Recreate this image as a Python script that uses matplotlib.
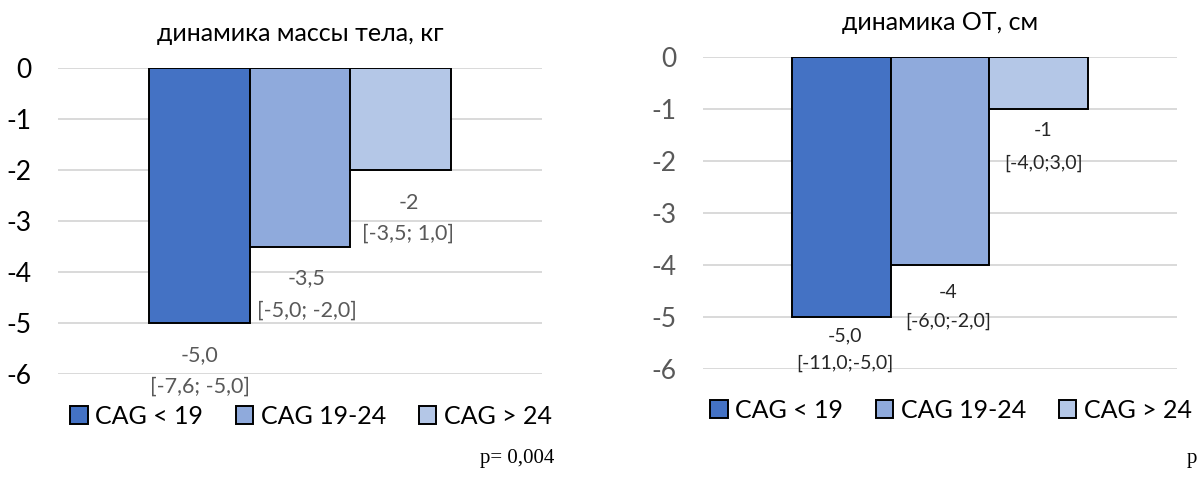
import numpy as np
import matplotlib
matplotlib.use("Agg")
import matplotlib.pyplot as plt

# groups by CAG repeat length
groups = ["CAG < 19", "CAG 19-24", "CAG > 24"]
colors = ["#4472C4", "#8FAADC", "#B4C7E7"]

# body mass change, kg (medians with IQR)
mass_median = [-5.0, -3.5, -2.0]
mass_text = ["-5,0", "-3,5", "-2"]
mass_iqr = ["[-7,6; -5,0]", "[-5,0; -2,0]", "[-3,5; 1,0]"]

# waist circumference change, cm
waist_median = [-5.0, -4.0, -1.0]
waist_text = ["-5,0", "-4", "-1"]
waist_iqr = ["[-11,0;-5,0]", "[-6,0;-2,0]", "[-4,0;3,0]"]

yticks = [0, -1, -2, -3, -4, -5, -6]

plt.rcParams["font.family"] = ["Lato", "DejaVu Sans"]

fig = plt.figure(figsize=(11.98, 5.0), dpi=100)


def panel(rect, values, vtext, itext, title, tick_color, lab_color, lab_size,
          offs, dxs, title_y, legend_xy):
    ax = fig.add_axes(rect)
    x = np.arange(len(values)) - 1
    bars = []
    for i, v in enumerate(values):
        b = ax.bar(x[i], v, width=1.0, color=colors[i], edgecolor="black",
                   linewidth=1.4, label=groups[i], zorder=3)
        bars.append(b)
        ax.annotate(vtext[i], (x[i], v), xytext=(dxs[i], -offs[i][0]),
                    textcoords="offset pixels", ha="center", va="center",
                    fontsize=lab_size, color=lab_color)
        ax.annotate(itext[i], (x[i], v), xytext=(dxs[i], -offs[i][1]),
                    textcoords="offset pixels", ha="center", va="center",
                    fontsize=lab_size, color=lab_color)
    ax.set_xlim(-2.41, 2.41)
    ax.set_ylim(-6, 0)
    ax.set_yticks(yticks)
    ax.set_yticklabels([str(t) for t in yticks], fontsize=19, color=tick_color)
    ax.tick_params(axis="y", length=0, pad=19)
    ax.set_xticks([])
    ax.grid(axis="y", color="#D9D9D9", linewidth=1.4, zorder=0)
    for s in ax.spines.values():
        s.set_visible(False)
    fig.text(rect[0] + rect[2] / 2, title_y, title, ha="center", va="center",
             fontsize=18, color="black")
    fig.legend(handles=[b[0] for b in bars], labels=groups, loc="center",
               bbox_to_anchor=legend_xy, ncol=3, frameon=False, fontsize=18,
               handlelength=0.7, handleheight=0.7, handletextpad=0.3,
               columnspacing=1.3, borderaxespad=0)
    return ax


panel([58 / 1198, 1 - 374 / 500, 484 / 1198, 306 / 500],
      mass_median, mass_text, mass_iqr, "динамика массы тела, кг",
      "black", "#595959", 15.5,
      [(32, 64), (32, 64), (33, 64)], [0, 7, 8],
      1 - 33 / 500, (311 / 1198, 1 - 416 / 500))

panel([703 / 1198, 1 - 369 / 500, 474 / 1198, 312 / 500],
      waist_median, waist_text, waist_iqr, "динамика ОТ, см",
      "#595959", "#262626", 14,
      [(19, 46), (28, 56), (21, 54)], [3, 8, 5],
      1 - 23 / 500, (951 / 1198, 1 - 410 / 500))

fig.text(480 / 1198, 1 - 459 / 500, "p= 0,004", family="Liberation Serif",
         fontsize=15, ha="left", va="center")
fig.text(1187 / 1198, 1 - 459 / 500, "p", family="Liberation Serif",
         fontsize=15, ha="left", va="center")

fig.savefig("out.png", dpi=100)
